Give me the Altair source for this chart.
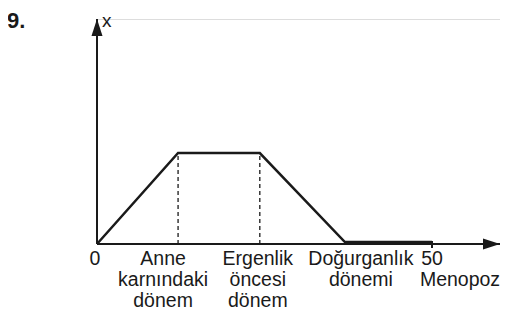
import altair as alt
import pandas as pd

# Curve values (x = age axis, y = relative amount)
curve_x = [0, 12.1, 24.3, 37.0, 50]
curve_y = [0, 1, 1, 0.022, 0.022]

# Stage boundaries marked with dashed lines
dash_x = [12.1, 24.3]
dash_top = [1, 1]

# Labels under the x axis
label_x = [0, 12.1, 24.3, 37.0, 50]
labels = ["0", "Anne\nkarnındaki\ndönem", "Ergenlik\nöncesi\ndönem", "Doğurganlık\ndönemi", "50"]
label_dx = [-2, -15, -2, 16, 0]
menopoz_x = [50]
menopoz_label = ["Menopoz"]

X_MAX = 60.15
Y_MAX = 2.473

xs = alt.Scale(domain=[0, X_MAX], nice=False, zero=False)
ys = alt.Scale(domain=[0, Y_MAX], nice=False, zero=False)
INK = "#1a1a1a"
FONT = "Liberation Sans"
FS = 19.5
LH = 21

curve = pd.DataFrame({"x": curve_x, "y": curve_y})
dashes = pd.DataFrame({"x": dash_x, "y0": [0] * len(dash_x), "y1": dash_top})
axes_df = pd.DataFrame({"x": [0, 0], "y": [0, 0], "x2": [X_MAX, 0], "y2": [0, Y_MAX]})
arrow_df = pd.DataFrame({"x": [X_MAX], "y": [0]})
arrow_up_df = pd.DataFrame({"x": [0], "y": [Y_MAX]})
tick_df = pd.DataFrame({"x": [50], "y": [-0.044], "y2": [0.033]})

enc_x = lambda f="x": alt.X(f"{f}:Q", scale=xs, axis=None)
enc_y = lambda f="y": alt.Y(f"{f}:Q", scale=ys, axis=None)

axis_lines = alt.Chart(axes_df).mark_rule(color=INK, strokeWidth=2).encode(
    x=enc_x(), y=enc_y(), x2="x2:Q", y2="y2:Q"
)
arrow_r = alt.Chart(arrow_df).mark_point(
    shape="M0,0 L-2,-0.65 L-2,0.65 Z", filled=True, size=289, color=INK, opacity=1
).encode(x=enc_x(), y=enc_y())
arrow_u = alt.Chart(arrow_up_df).mark_point(
    shape="M0,0 L-0.65,2 L0.65,2 Z", filled=True, size=289, color=INK, opacity=1
).encode(x=enc_x(), y=enc_y())
tick = alt.Chart(tick_df).mark_rule(color=INK, strokeWidth=2).encode(
    x=enc_x(), y=enc_y(), y2="y2:Q"
)
dash_lines = alt.Chart(dashes).mark_rule(color=INK, strokeWidth=1.3, strokeDash=[4, 3]).encode(
    x=enc_x(), y=enc_y("y0"), y2="y1:Q"
)
line = alt.Chart(curve).mark_line(color=INK, strokeWidth=2.5, strokeJoin="miter").encode(
    x=enc_x(), y=enc_y(), order="x:Q"
)

text_layers = []
for lx, lab, ddx in zip(label_x, labels, label_dx):
    df = pd.DataFrame({"x": [lx], "y": [0], "t": [lab]})
    text_layers.append(
        alt.Chart(df).mark_text(
            font=FONT, fontSize=FS, color=INK, align="center", baseline="alphabetic",
            dx=ddx, dy=LH, lineBreak="\n", lineHeight=LH
        ).encode(x=enc_x(), y=enc_y(), text="t:N")
    )
meno = pd.DataFrame({"x": menopoz_x, "y": [0], "t": menopoz_label})
text_layers.append(
    alt.Chart(meno).mark_text(
        font=FONT, fontSize=FS, color=INK, align="center", baseline="alphabetic", dx=28, dy=2 * LH
    ).encode(x=enc_x(), y=enc_y(), text="t:N")
)

num = alt.Chart(pd.DataFrame({"t": ["9."]})).mark_text(
    font=FONT, fontSize=22, fontWeight="bold", color=INK, align="left", baseline="alphabetic"
).encode(x=alt.value(-90), y=alt.value(9), text="t:N")
xlab = alt.Chart(pd.DataFrame({"t": ["x"]})).mark_text(
    font=FONT, fontSize=19, color=INK, align="left", baseline="alphabetic"
).encode(x=alt.value(5), y=alt.value(8), text="t:N")

chart = alt.layer(
    dash_lines, axis_lines, tick, line, arrow_r, arrow_u, *text_layers, num, xlab
).properties(
    width=403, height=225,
    padding={"left": 89, "top": 11, "right": 0, "bottom": 68},
    autosize=alt.AutoSizeParams(type="none"),
).configure_view(stroke=None).configure(background="white")

chart.save("out.html", embed_options={"renderer": "svg", "actions": False})
